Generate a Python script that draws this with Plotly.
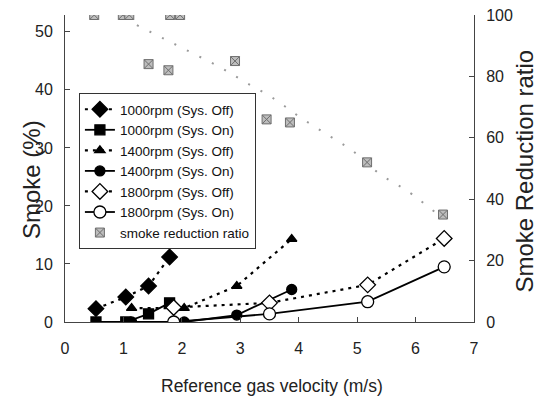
import plotly.graph_objects as go

# ---- data ----
x_1000 = [0.53, 1.04, 1.43, 1.79]
off_1000 = [2.3, 4.3, 6.2, 11.2]
on_1000 = [0.0, 0.0, 1.4, 3.3]

x_1400 = [1.14, 2.04, 2.94, 3.88]
off_1400 = [2.4, 2.4, 6.2, 14.3]
on_1400 = [0.0, 0.0, 1.2, 5.6]

x_1800 = [1.86, 3.50, 5.18, 6.49]
off_1800 = [2.5, 3.3, 6.4, 14.4]
on_1800 = [0.0, 1.4, 3.5, 9.5]

x_ratio = [0.50, 0.99, 1.10, 1.43, 1.77, 1.80, 1.97, 2.91, 3.45, 3.85, 5.17, 6.47]
ratio = [100, 100, 100, 84, 82, 100, 100, 85, 66, 65, 52, 35]

x_trend = [1.23, 1.71, 2.17, 2.64, 3.08, 3.57, 4.00, 4.45, 4.91, 5.38, 5.85, 6.32]
trend = [96.7, 92.1, 87.7, 83.1, 78.2, 72.8, 67.0, 61.5, 55.9, 48.3, 42.8, 36.0]

x_ticks = [0, 1, 2, 3, 4, 5, 6, 7]
y_ticks = [0, 10, 20, 30, 40, 50]
y2_ticks = [0, 20, 40, 60, 80, 100]

names = ["1000rpm (Sys. Off)", "1000rpm (Sys. On)", "1400rpm (Sys. Off)",
         "1400rpm (Sys. On)", "1800rpm (Sys. Off)", "1800rpm (Sys. On)",
         "smoke reduction ratio"]

DOT = "3px,5px"
FONT = "Liberation Sans, Arial, sans-serif"
fig = go.Figure()

fig.add_trace(go.Scatter(x=x_trend, y=trend, yaxis="y2", mode="lines",
                         line=dict(color="#9a9a9a", width=2, dash="2px,12px", shape="spline"),
                         showlegend=False, hoverinfo="skip"))

def series(x, y, name, symbol, size, dash, fill="black"):
    fig.add_trace(go.Scatter(
        x=x, y=y, name=name, mode="lines+markers",
        line=dict(color="black", width=2.2 if dash else 1.8, dash=dash or "solid"),
        marker=dict(symbol=symbol, size=size, color=fill,
                    line=dict(color="black", width=1.3))))

series(x_1000, off_1000, names[0], "diamond", 12, DOT)
series(x_1000, on_1000, names[1], "square", 10, None)
series(x_1400, off_1400, names[2], "triangle-up", 9, DOT)
series(x_1400, on_1400, names[3], "circle", 10, None)
series(x_1800, off_1800, names[4], "diamond", 12, DOT, fill="white")
series(x_1800, on_1800, names[5], "circle", 12, None, fill="white")

fig.add_trace(go.Scatter(x=x_ratio, y=ratio, name=names[6], yaxis="y2", mode="markers",
                         marker=dict(symbol="square-x", size=9, color="#bdbdbd",
                                     line=dict(color="#6e6e6e", width=1))))

tickfont = dict(family=FONT, size=16, color="#222")
axis_common = dict(showgrid=False, zeroline=False, showline=True, linecolor="#444",
                   linewidth=1, ticks="inside", ticklen=5, tickcolor="#444",
                   tickfont=tickfont, automargin=False, ticklabeloverflow="allow")

# page body has an 8px margin, so the figure is sized/offset to compensate
fig.update_layout(
    width=535, height=394,
    margin=dict(l=57, r=69, t=7, b=80, autoexpand=False),
    paper_bgcolor="white", plot_bgcolor="white",
    showlegend=True,
    xaxis=dict(range=[0, 7], tickvals=x_ticks, ticklabelstandoff=12, **axis_common),
    yaxis=dict(range=[0, 52.9], tickvals=y_ticks, ticklabelstandoff=8, **axis_common),
    yaxis2=dict(range=[0, 100], tickvals=y2_ticks, overlaying="y", side="right",
                ticklabelstandoff=8, **axis_common),
    legend=dict(x=0.034, y=0.746, xanchor="left", yanchor="top",
                bordercolor="#333", borderwidth=1, bgcolor="white",
                font=dict(family=FONT, size=13.5, color="#111"),
                tracegroupgap=0, itemwidth=30),
    annotations=[
        dict(text="Smoke (%)", xref="paper", yref="paper", x=-0.083, y=0.4625,
             textangle=-90, showarrow=False, xanchor="center", yanchor="middle",
             font=dict(family=FONT, size=24, color="#222")),
        dict(text="Smoke Reduction ratio", xref="paper", yref="paper", x=1.1247, y=0.49,
             textangle=-90, showarrow=False, xanchor="center", yanchor="middle",
             font=dict(family=FONT, size=24, color="#222")),
        dict(text="Reference gas velocity (m/s)", xref="paper", yref="paper", x=0.507, y=-0.2085,
             showarrow=False, xanchor="center", yanchor="middle",
             font=dict(family=FONT, size=17.5, color="#222")),
    ],
)

fig.write_html("out.html")
